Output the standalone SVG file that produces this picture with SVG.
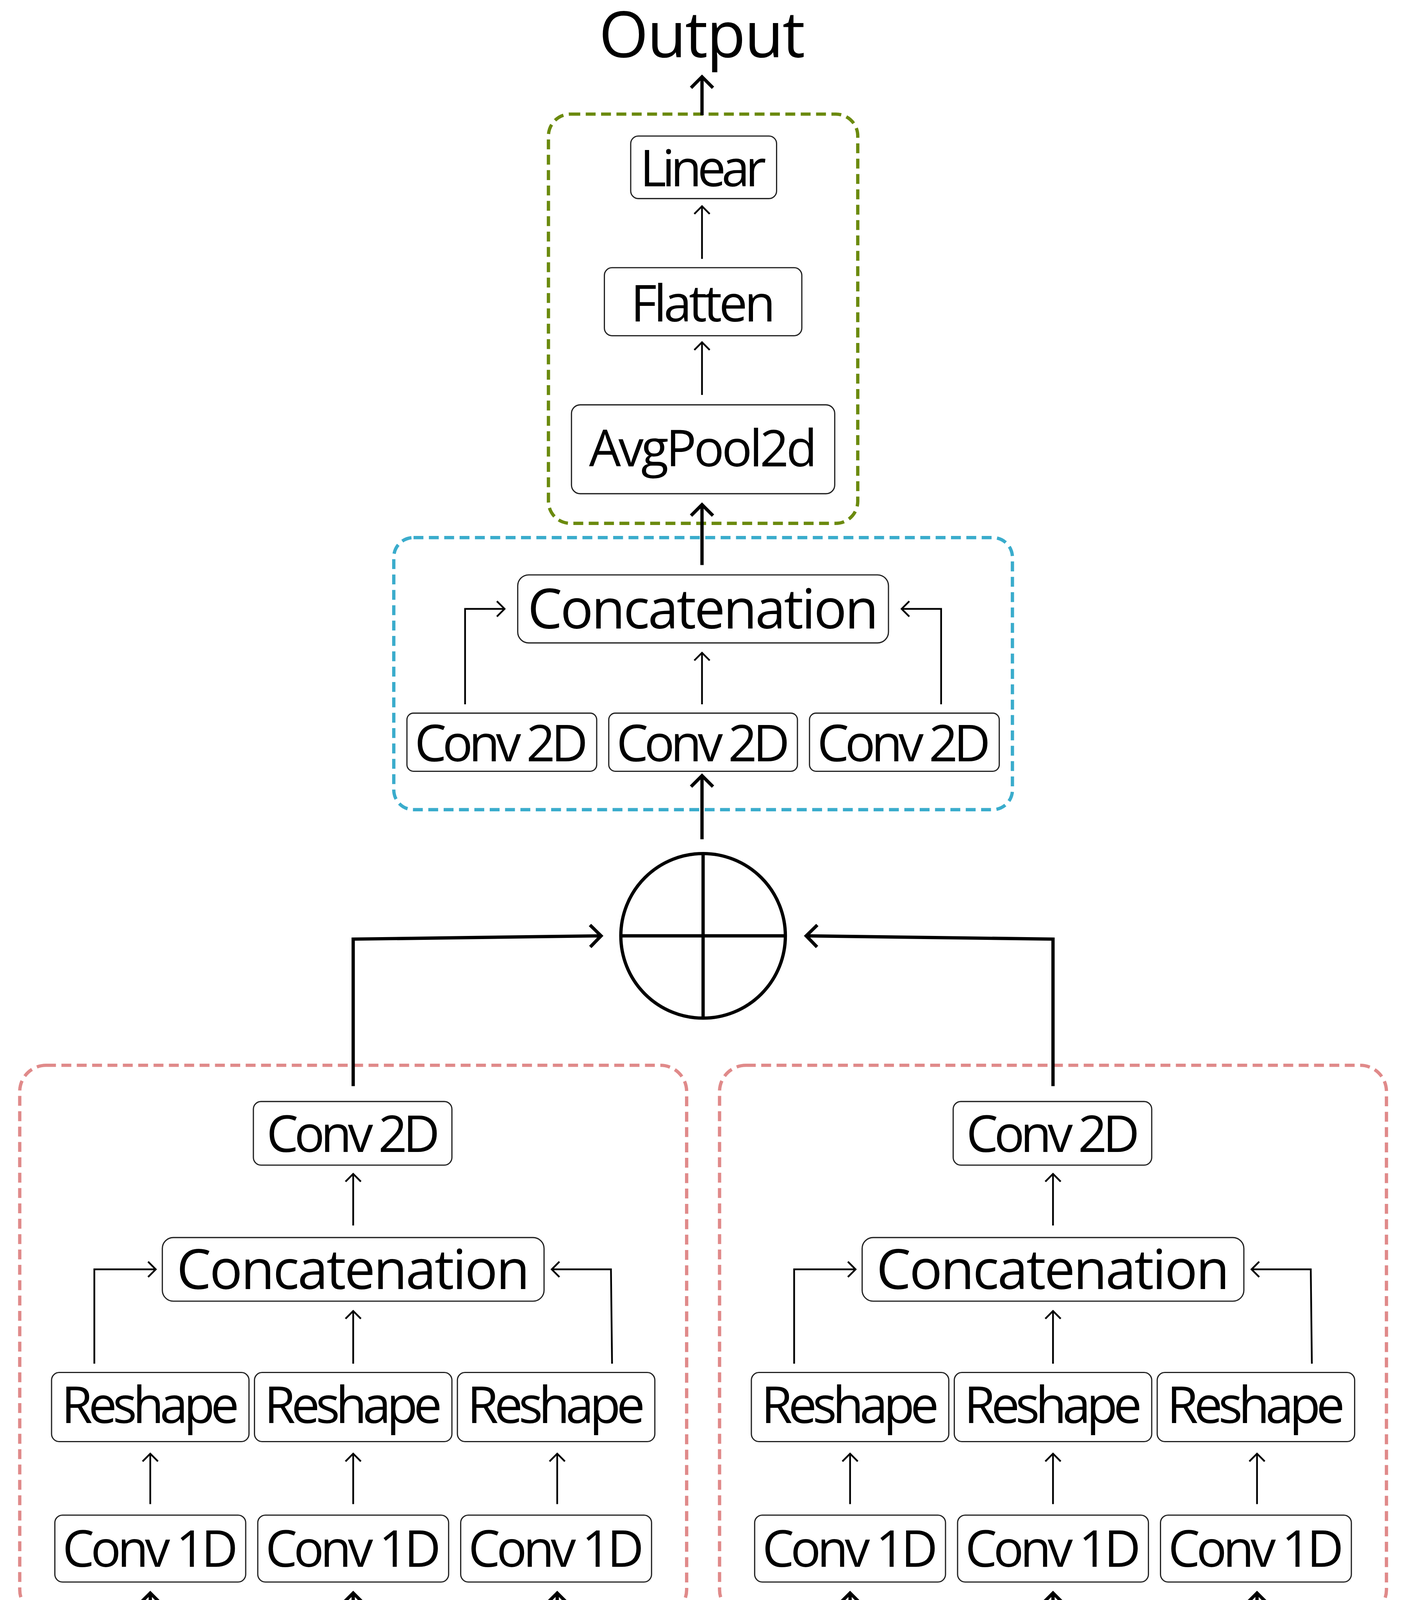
<svg xmlns="http://www.w3.org/2000/svg" width="3595" height="4402" viewBox="0 0 3595 4402">
<defs>
<style>
.n{fill:#fff;stroke:#222;stroke-width:1.1}
.t{font-family:"Open Sans","DejaVu Sans",sans-serif;fill:#000;text-anchor:middle;lengthAdjust:spacingAndGlyphs}
.c{fill:none;stroke:#000;stroke-width:1.6}
.k{fill:none;stroke:#000;stroke-width:3}
.d{fill:none;stroke-width:3;stroke-dasharray:9 5}
</style>
<marker id="a" markerUnits="userSpaceOnUse" viewBox="-10 -10 20 20" refX="0" refY="0" markerWidth="20" markerHeight="20" orient="auto"><path d="M-7,-7 L0,0 L-7,7" fill="none" stroke="#000" stroke-width="1.6"/></marker>
<marker id="b" markerUnits="userSpaceOnUse" viewBox="-14 -14 28 28" refX="0" refY="0" markerWidth="28" markerHeight="28" orient="auto"><path d="M-10,-10 L0,0 L-10,10" fill="none" stroke="#000" stroke-width="3"/></marker>
</defs>
<rect width="3595" height="4402" fill="#fff"/>
<g transform="scale(2.8086)">
<g id="groups">
<rect class="d" x="500" y="104" width="282" height="373" rx="20" stroke="#6b8a0e"/>
<rect class="d" x="359" y="490" width="564" height="248" rx="18" stroke="#3aaccc"/>
<rect class="d" x="18" y="971" width="608" height="502" rx="24" stroke="#e08a8a"/>
<rect class="d" x="656" y="971" width="608" height="502" rx="24" stroke="#e08a8a"/>
</g>
<g id="connectors">
<path class="k" d="M640,105 V70" marker-end="url(#b)"/>
<path class="c" d="M640,236 V188" marker-end="url(#a)"/>
<path class="c" d="M640,360 V312" marker-end="url(#a)"/>
<path class="k" d="M640,515 V460" marker-end="url(#b)"/>
<path class="c" d="M640,642 V595" marker-end="url(#a)"/>
<path class="c" d="M424,642 V555 H460" marker-end="url(#a)"/>
<path class="c" d="M858,642 V555 H822" marker-end="url(#a)"/>
<path class="k" d="M640,765 V707" marker-end="url(#b)"/>
<path class="k" d="M322,990 V856 L548,853" marker-end="url(#b)"/>
<path class="k" d="M960,990 V856 L735,853" marker-end="url(#b)"/>
<g id="connA">
<path class="c" d="M322,1117 V1070" marker-end="url(#a)"/>
<path class="c" d="M322,1243 V1195" marker-end="url(#a)"/>
<path class="c" d="M86,1243 V1157 H142" marker-end="url(#a)"/>
<path class="c" d="M558,1243 L557,1157 H503" marker-end="url(#a)"/>
<path class="c" d="M137,1371 V1325" marker-end="url(#a)"/>
<path class="c" d="M322,1371 V1325" marker-end="url(#a)"/>
<path class="c" d="M508,1371 V1325" marker-end="url(#a)"/>
<path class="k" d="M228,1530 H137 V1452" marker-end="url(#b)"/>
<path class="k" d="M322,1498 V1452" marker-end="url(#b)"/>
<path class="k" d="M418,1530 H508 V1452" marker-end="url(#b)"/>
</g>
<use href="#connA" transform="translate(638,0)"/>
</g>
<text class="t" x="640" y="52" font-size="58" textLength="188">Output</text>
<g id="linear"><rect class="n" x="575" y="124" width="133" height="57" rx="7"/><text class="t" x="641" y="170" font-size="46" textLength="115">Linear</text></g>
<g id="flatten"><rect class="n" x="551" y="244" width="180" height="62" rx="7"/><text class="t" x="641" y="293" font-size="46" textLength="132">Flatten</text></g>
<g id="avgpool"><rect class="n" x="521" y="369" width="240" height="81" rx="8"/><text class="t" x="641" y="425" font-size="46" textLength="208">AvgPool2d</text></g>
<g id="concat-top"><rect class="n" x="472" y="524" width="338" height="62" rx="10"/><text class="t" x="641" y="573" font-size="50" textLength="320">Concatenation</text></g>
<g id="c2d-1"><rect class="n" x="371" y="650" width="173" height="53" rx="6"/><text class="t" x="457" y="694" font-size="46" textLength="158">Conv 2D</text></g>
<g id="c2d-2"><rect class="n" x="555" y="650" width="172" height="53" rx="6"/><text class="t" x="641" y="694" font-size="46" textLength="158">Conv 2D</text></g>
<g id="c2d-3"><rect class="n" x="738" y="650" width="173" height="53" rx="6"/><text class="t" x="824" y="694" font-size="46" textLength="158">Conv 2D</text></g>
<g id="sum"><circle cx="641" cy="853" r="75" fill="none" stroke="#000" stroke-width="3"/><path d="M641,778 V928 M566,853 H716" stroke="#000" stroke-width="3"/></g>
<g id="branchA">
<g id="A-c2d"><rect class="n" x="231" y="1004" width="181" height="58" rx="7"/><text class="t" x="322" y="1050" font-size="46" textLength="158">Conv 2D</text></g>
<g id="A-concat"><rect class="n" x="148" y="1128" width="348" height="58" rx="10"/><text class="t" x="322" y="1175" font-size="50" textLength="322">Concatenation</text></g>
<g id="A-r1"><rect class="n" x="47" y="1251" width="180" height="63" rx="7"/><text class="t" x="137" y="1297" font-size="46" textLength="162">Reshape</text></g>
<g id="A-r2"><rect class="n" x="232" y="1251" width="180" height="63" rx="7"/><text class="t" x="322" y="1297" font-size="46" textLength="162">Reshape</text></g>
<g id="A-r3"><rect class="n" x="417" y="1251" width="180" height="63" rx="7"/><text class="t" x="507" y="1297" font-size="46" textLength="162">Reshape</text></g>
<g id="A-c1"><rect class="n" x="50" y="1381" width="174" height="61" rx="7"/><text class="t" x="137" y="1428" font-size="46" textLength="160">Conv 1D</text></g>
<g id="A-c2"><rect class="n" x="235" y="1381" width="174" height="61" rx="7"/><text class="t" x="322" y="1428" font-size="46" textLength="160">Conv 1D</text></g>
<g id="A-c3"><rect class="n" x="420" y="1381" width="174" height="61" rx="7"/><text class="t" x="507" y="1428" font-size="46" textLength="160">Conv 1D</text></g>
</g>
<g id="branchP">
<g id="P-c2d"><rect class="n" x="869" y="1004" width="181" height="58" rx="7"/><text class="t" x="960" y="1050" font-size="46" textLength="158">Conv 2D</text></g>
<g id="P-concat"><rect class="n" x="786" y="1128" width="348" height="58" rx="10"/><text class="t" x="960" y="1175" font-size="50" textLength="322">Concatenation</text></g>
<g id="P-r1"><rect class="n" x="685" y="1251" width="180" height="63" rx="7"/><text class="t" x="775" y="1297" font-size="46" textLength="162">Reshape</text></g>
<g id="P-r2"><rect class="n" x="870" y="1251" width="180" height="63" rx="7"/><text class="t" x="960" y="1297" font-size="46" textLength="162">Reshape</text></g>
<g id="P-r3"><rect class="n" x="1055" y="1251" width="180" height="63" rx="7"/><text class="t" x="1145" y="1297" font-size="46" textLength="162">Reshape</text></g>
<g id="P-c1"><rect class="n" x="688" y="1381" width="174" height="61" rx="7"/><text class="t" x="775" y="1428" font-size="46" textLength="160">Conv 1D</text></g>
<g id="P-c2"><rect class="n" x="873" y="1381" width="174" height="61" rx="7"/><text class="t" x="960" y="1428" font-size="46" textLength="160">Conv 1D</text></g>
<g id="P-c3"><rect class="n" x="1058" y="1381" width="174" height="61" rx="7"/><text class="t" x="1145" y="1428" font-size="46" textLength="160">Conv 1D</text></g>
</g>
<g id="inputA"><text class="t" x="302" y="1545" font-size="56" textLength="138">Input</text><text class="t" x="395" y="1556" font-size="34">A</text></g>
<g id="inputP"><text class="t" x="940" y="1545" font-size="56" textLength="138">Input</text><text class="t" x="1033" y="1556" font-size="34">P</text></g>
</g>
</svg>
